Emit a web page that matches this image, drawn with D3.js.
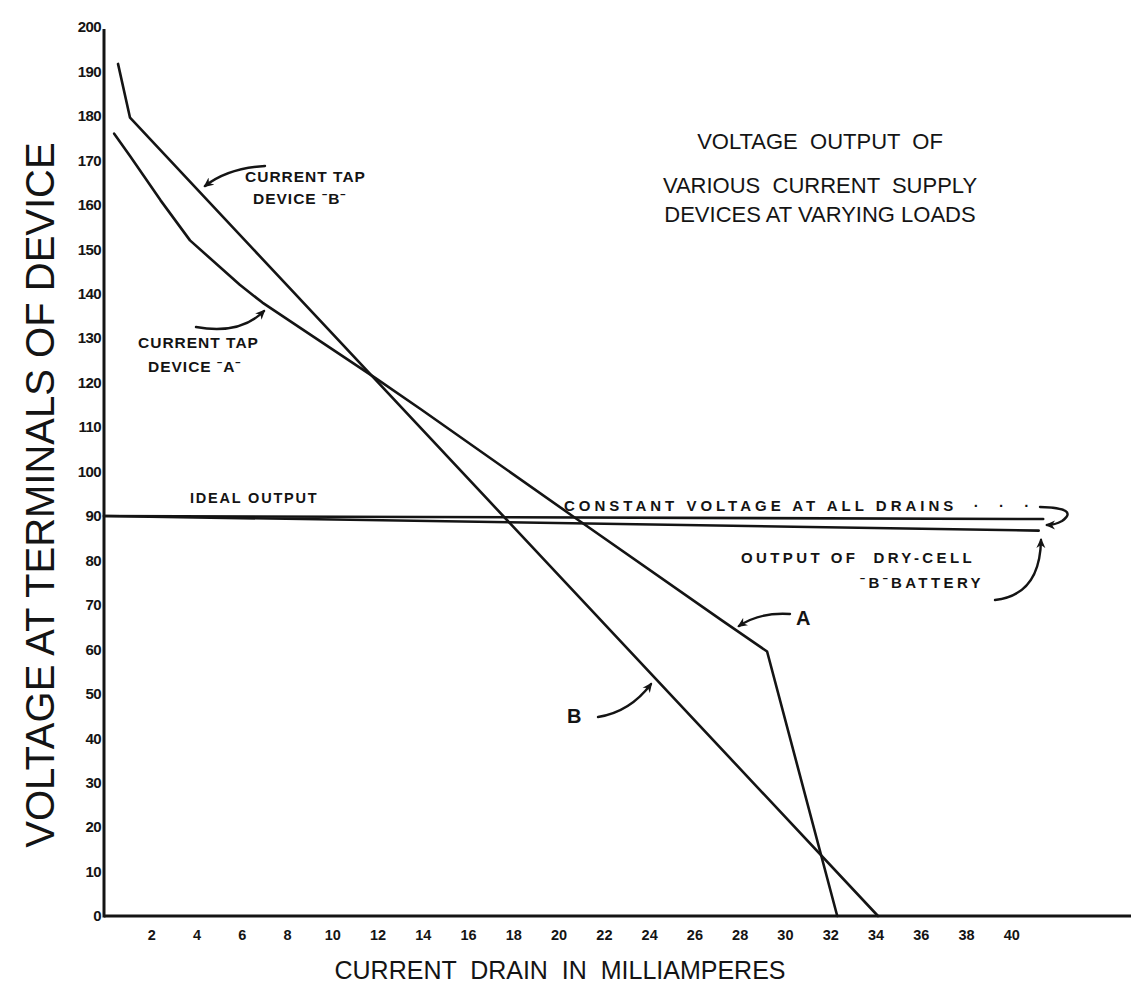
<!DOCTYPE html>
<html>
<head>
<meta charset="utf-8">
<script src="https://cdn.jsdelivr.net/npm/d3@7"></script>
<style>
  body { margin: 0; background: #fff; }
  svg { display: block; }
  text { fill: #141414; }
</style>
</head>
<body>
<svg id="chart" width="1131" height="988"></svg>
<script>
// Axis ticks
const xTicks = [2, 4, 6, 8, 10, 12, 14, 16, 18, 20, 22, 24, 26, 28, 30, 32, 34, 36, 38, 40];
const yTicks = [0, 10, 20, 30, 40, 50, 60, 70, 80, 90, 100, 110, 120, 130, 140, 150, 160, 170, 180, 190, 200];

// Current tap device "A": drain (mA) and terminal voltage (V)
const deviceA_mA = [0.45, 1.15, 2.5, 3.8, 6.0, 7.0, 9.2, 12.0, 14.0, 20.7, 27.3, 29.3, 32.4];
const deviceA_V  = [176,  171,  161, 152, 142, 138, 130.5, 121, 114, 90, 66.5, 59.5, 0];

// Current tap device "B"
const deviceB_mA = [0.62, 1.15, 34.2];
const deviceB_V  = [191.7, 179.6, 0];

// Ideal output: constant voltage at all drains
const ideal_mA = [0, 41.5];
const ideal_V  = [90, 89.3];

// Dry-cell "B" battery output
const battery_mA = [0, 41.3];
const battery_V  = [90, 86.7];

const W = 1131, H = 988;
const svg = d3.select("#chart");

const x = d3.scaleLinear().domain([0, 45]).range([104, 1122.4]);
const y = d3.scaleLinear().domain([0, 200]).range([916, 27]);

const ink = "#141414";
const hand = "Liberation Sans, Arial, sans-serif";

// Arrowhead
svg.append("defs").append("marker")
  .attr("id", "head")
  .attr("viewBox", "0 0 10 10")
  .attr("refX", 8).attr("refY", 5)
  .attr("markerWidth", 10).attr("markerHeight", 10)
  .attr("markerUnits", "userSpaceOnUse")
  .attr("orient", "auto")
  .append("path")
  .attr("d", "M0,0.5 L10,5 L0,9.5 L3,5 Z")
  .attr("fill", ink);

// Axis frame
svg.append("line")
  .attr("x1", x(0)).attr("x2", W)
  .attr("y1", y(0)).attr("y2", y(0))
  .attr("stroke", ink).attr("stroke-width", 3);
svg.append("line")
  .attr("x1", x(0)).attr("x2", x(0))
  .attr("y1", y(0) + 1.5).attr("y2", y(200) + 2)
  .attr("stroke", ink).attr("stroke-width", 3);

// Tick labels
const xAxis = d3.axisBottom(x).tickValues(xTicks).tickSize(0).tickPadding(0);
const gx = svg.append("g").attr("transform", `translate(0,${y(0) + 14})`).call(xAxis);
gx.select(".domain").remove();
gx.selectAll("text")
  .attr("fill", ink)
  .attr("font-family", hand)
  .attr("font-weight", "bold")
  .attr("font-size", 14.5)
  .attr("dx", 2);

const yAxis = d3.axisLeft(y).tickValues(yTicks).tickSize(0).tickPadding(0);
const gy = svg.append("g").attr("transform", `translate(${x(0) - 3},0)`).call(yAxis);
gy.select(".domain").remove();
gy.selectAll("text")
  .attr("fill", ink)
  .attr("font-family", hand)
  .attr("font-weight", "bold")
  .attr("font-size", 15)
  .attr("letter-spacing", -0.6);

// Curves
const line = d3.line().x(d => x(d[0])).y(d => y(d[1]));
const series = [
  [deviceA_mA, deviceA_V],
  [deviceB_mA, deviceB_V],
  [ideal_mA, ideal_V],
  [battery_mA, battery_V]
];
series.forEach(([xs, vs]) => {
  svg.append("path")
    .datum(xs.map((v, i) => [v, vs[i]]))
    .attr("d", line)
    .attr("fill", "none")
    .attr("stroke", ink)
    .attr("stroke-width", 2.6)
    .attr("stroke-linejoin", "round")
    .attr("stroke-linecap", "round");
});

// Axis titles
svg.append("text")
  .attr("transform", `translate(54,495) rotate(-90)`)
  .attr("text-anchor", "middle")
  .attr("font-family", hand)
  .attr("font-size", 40)
  .text("VOLTAGE AT TERMINALS OF DEVICE");

svg.append("text")
  .attr("x", 560).attr("y", 979)
  .attr("text-anchor", "middle")
  .attr("font-family", hand)
  .attr("font-size", 25)
  .attr("xml:space", "preserve")
  .text("CURRENT  DRAIN  IN  MILLIAMPERES");

// Chart title
const titleLines = ["VOLTAGE  OUTPUT  OF", "VARIOUS  CURRENT  SUPPLY", "DEVICES AT VARYING LOADS"];
const titleBase = [149, 193, 222];
titleLines.forEach((t, i) => {
  svg.append("text")
    .attr("x", 820).attr("y", titleBase[i])
    .attr("text-anchor", "middle")
    .attr("font-family", hand)
    .attr("font-size", 22)
    .attr("xml:space", "preserve")
    .text(t);
});

// Annotation text
function note(lines, xs, ys, size, spacing) {
  lines.forEach((t, i) => {
    svg.append("text")
      .attr("x", xs[i]).attr("y", ys[i])
      .attr("font-family", hand)
      .attr("font-weight", "bold")
      .attr("font-size", size)
      .attr("letter-spacing", spacing)
      .attr("xml:space", "preserve")
      .text(t);
  });
}
note(["CURRENT TAP", "DEVICE \u02c9B\u02c9"], [245, 253], [182, 204], 15.5, 1);
note(["CURRENT TAP", "DEVICE \u02c9A\u02c9"], [138, 148], [348, 372], 15.5, 1);
note(["IDEAL OUTPUT"], [190], [503], 14.5, 1.8);
note(["CONSTANT VOLTAGE AT ALL DRAINS  \u00b7  \u00b7  \u00b7"], [564], [511], 15, 4);
note(["OUTPUT OF  DRY-CELL", "\u02c9B\u02c9BATTERY"], [741, 860], [563, 588], 15, 3.4);
note(["A"], [796], [625], 20, 0);
note(["B"], [567], [723], 20, 0);

// Annotation arrows
function arrow(d) {
  svg.append("path")
    .attr("d", d)
    .attr("fill", "none")
    .attr("stroke", ink)
    .attr("stroke-width", 2.4)
    .attr("stroke-linecap", "round")
    .attr("marker-end", "url(#head)");
}
arrow("M265,166 Q228,168 205,186");
arrow("M196,327 Q240,335 264,311");
arrow("M790,614 Q760,612 739,626");
arrow("M598,717 Q630,712 651,684");
arrow("M995,600 Q1040,595 1041,540");
arrow("M1040,507 Q1080,508 1062,521 Q1055,525 1047,525");
</script>
</body>
</html>
